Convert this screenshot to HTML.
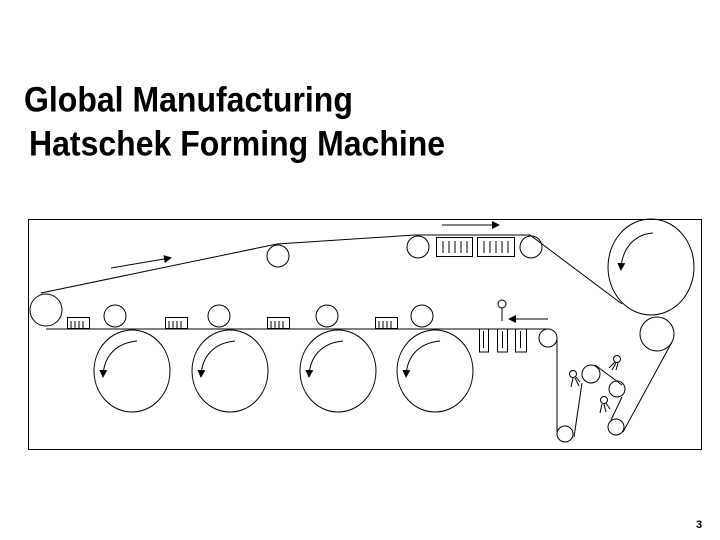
<!DOCTYPE html>
<html><head><style>
html,body{margin:0;padding:0;background:#fff;}
body{width:720px;height:540px;position:relative;overflow:hidden;font-family:"Liberation Sans",Arial,sans-serif;}
.t{position:absolute;font-weight:bold;font-size:32px;color:#000;white-space:nowrap;transform-origin:0 100%;transform:scaleY(1.1);line-height:1;}
</style></head><body>
<div class="t" style="left:24px;top:85px;">Global Manufacturing</div>
<div class="t" style="left:29px;top:129px;">Hatschek Forming Machine</div>
<div style="position:absolute;left:696px;top:519px;font-size:11px;font-weight:bold;">3</div>
<svg width="720" height="540" style="position:absolute;left:0;top:0" fill="none" stroke="#000" stroke-width="1">
<defs><marker id="a" markerWidth="8" markerHeight="8" refX="6" refY="4" orient="auto" markerUnits="userSpaceOnUse"><path d="M0,0 L8,4 L0,8z" fill="#000" stroke="none"/></marker></defs>
<rect x="28.5" y="219.5" width="673" height="230"/>
<circle cx="46" cy="310" r="16"/>
<polyline points="41,293 277,244 415,235 530,235 622,304"/>
<line x1="46" y1="329" x2="549" y2="329"/>
<line x1="111" y1="268" x2="170" y2="258" marker-end="url(#a)"/>
<line x1="442" y1="225" x2="498" y2="225" marker-end="url(#a)"/>
<circle cx="278" cy="256" r="11"/>
<circle cx="418" cy="247" r="11"/>
<circle cx="531" cy="247" r="11"/>
<rect x="436.5" y="237.5" width="36" height="19"/>
<rect x="477.5" y="237.5" width="37" height="19"/>
<path d="M443,241v12M449,241v12M455,241v12M461,241v12M467,241v12M484,241v12M490,241v12M496,241v12M502,241v12M508,241v12"/>
<g id="bx"><rect x="67.5" y="317.5" width="22" height="11"/><path d="M71,321v7M75,321v7M79,321v7M83,321v7"/></g>
<use href="#bx" x="98"/><use href="#bx" x="200"/><use href="#bx" x="308"/>
<circle cx="115" cy="316" r="11"/><circle cx="219" cy="316" r="11"/><circle cx="327" cy="316" r="11"/><circle cx="422" cy="316" r="11"/>
<g id="bc"><ellipse cx="132" cy="371" rx="38" ry="41"/><path d="M137,341 C116,343 104,356 103,376" marker-end="url(#a)"/></g>
<use href="#bc" x="98"/><use href="#bc" x="206"/><use href="#bc" x="303"/>
<ellipse cx="651" cy="267" rx="43" ry="48"/>
<path d="M653,233 C636,234 622,247 621,269" marker-end="url(#a)"/>
<circle cx="657" cy="334" r="17"/>
<path d="M479.5,329v23h9v-23M483.5,331v17M497.5,329v23h10v-23M502.5,331v17M515.5,329v23h11v-23M520.5,331v17"/>
<circle cx="502" cy="304" r="4"/><line x1="502" y1="308" x2="502" y2="321"/>
<line x1="548" y1="319" x2="510" y2="319" marker-end="url(#a)"/>
<circle cx="548" cy="338" r="9"/>
<line x1="557" y1="340" x2="557" y2="432"/>
<circle cx="565" cy="434" r="8"/>
<line x1="574" y1="437" x2="582" y2="383"/>
<circle cx="591" cy="374" r="9"/>
<line x1="595" y1="365" x2="622" y2="385"/>
<circle cx="617" cy="389" r="8"/>
<line x1="622" y1="397" x2="611" y2="420"/>
<circle cx="616" cy="427" r="8"/>
<line x1="623" y1="432" x2="672" y2="342"/>
<circle cx="573" cy="374" r="3.5"/><path d="M573,378l-2,9M575,378l4,8M576,377l4,5"/>
<circle cx="617" cy="359" r="3.5"/><path d="M615,362l-6,6M616,363l-4,7M618,363l-2,7"/>
<circle cx="604" cy="400" r="3.5"/><path d="M602,404l-2,9M604,404l2,8M606,403l4,6"/>
</svg>
</body></html>
